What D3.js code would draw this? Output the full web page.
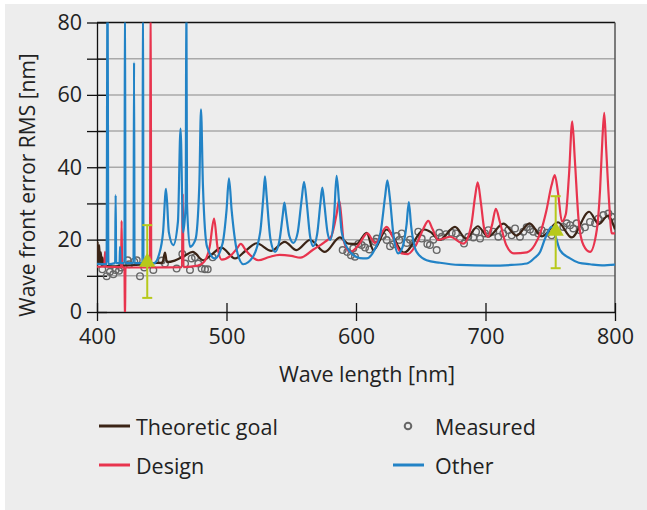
<!DOCTYPE html>
<html>
<head>
<meta charset="utf-8">
<script src="https://cdn.jsdelivr.net/npm/d3@7"></script>
<style>
body{margin:0;background:#fff;}
svg{display:block;font-family:"Open Sans",sans-serif;}
</style>
</head>
<body>
<div id="chart"></div>
<script>

// Data: [wave length nm, RMS nm]
var theoreticGoal = [
	[400,12],[400.5,19.4],[401,13.5],[401.7,18.5],[402.3,13.5],[403,16.5],[403.6,13],[404.3,15],[405,12.8],
	[412,12.6],[420,12.8],[430,13],[440,13.2],[446,13.6],[450.5,13.6],[452.5,16.4],[454,13.8],[460,14.2],
	[467,15.4],[474,16.6],[482,14.3],[489,16],[496,17.8],[506.6,14.8],[515,17],[523.3,19],[534.6,16.9],
	[545,19.4],[554,17.1],[564.5,19.9],[576,16.6],[587.6,20.6],[594,18.9],[600.5,18.8],[608.2,21.9],
	[613.4,17.1],[623.7,22.8],[637,16.4],[653,22.8],[658,22],[664.4,19.9],[676.4,23.5],[685,20.3],
	[694,23.7],[702,20.8],[713.8,24.4],[724,21.1],[734,24.5],[743.5,20.9],[756,24.8],[766.5,20.6],
	[780,27.7],[787.5,24.3],[794.5,26.6],[800,22.8]
];

var design = [
	[400,12.5],[405.6,12.5],[406.2,16.6],[406.8,12.5],[418.6,12.4],[419,25.2],[419.4,12.4],
	[421.2,12.3],[421.6,-3],[422,12.3],[440.9,12.3],[441.4,90],[441.9,12.3],[465.6,12.4],
	[466.2,32.7],[466.8,12.4],[478,12.8],[483,14],[487,18],[490.4,25.8],[493,18],[496.3,14.5],
	[503,15.5],[508,17.5],[511,18.8],[515,17],[524.6,14.3],[533,15.2],[541,15.8],[550,15.5],
	[557,15],[566.8,17.2],[576,19.4],[581,21],[585,27],[587,30.9],[589,25],[590.3,19.9],
	[595.4,16.6],[602,18.5],[608.7,21.7],[614.7,19.1],[623.7,23.5],[628,21],[635.3,16.2],
	[640,16],[647,19],[652,23],[655.8,25.2],[659,23],[663.5,19.9],[672.6,20.8],[682.9,18.9],
	[689,24],[692,32],[694,35.8],[696.5,30],[699,23],[702,20.8],[705,24],[708,28.5],[711,25],
	[716,18.5],[722,16.2],[732,16.5],[738,18.5],[743,22.6],[747,28],[751,35],[753.5,37.8],
	[756,33],[759,25],[762,27],[764.5,38],[767,52.7],[769,42],[772,25],[775.6,18.5],[780.7,16.6],
	[785.9,22.6],[788.5,34],[790.3,48],[791.7,55],[793.2,45],[795.5,30],[797.5,21.7],[800,21.7]
];

var other = [
	[400,13.3],[407.4,13.2],[408.1,90],[408.8,13.2],[414,13.5],[414.4,32.3],[414.8,13.5],
	[417.4,13.5],[417.8,18],[418.2,13.5],[421.2,13.5],[421.6,90],[422,13.5],[428.2,13.5],
	[428.6,69],[429,13.5],[435.1,13.5],[435.5,90],[435.9,13.5],[444,13.5],[448,16],[451,22],
	[453.3,34],[455.5,22],[458.9,18.5],[462.5,25],[464.5,50.7],[466.5,22],[468.5,30],[469,90],
	[469.5,30],[471.8,18],[476,20],[479,35],[480.3,56],[481.8,35],[485,18],[491,14.8],[497,19],
	[500,28],[501.9,36.9],[504,28],[508,17],[513,13.2],[520,15],[526,22],[528.5,32],[529.7,37.5],
	[531,32],[534,20],[537.5,16.6],[541,20],[543.5,27],[544.7,30.2],[546,27],[548.5,21],
	[551.7,19.1],[555,22],[558,31],[559.9,36],[562,30],[564.5,21],[567,18.2],[570,21.5],
	[572.5,30],[574,34.4],[575.5,30],[578,22],[580,19.9],[583,26],[585,37.6],[587,30],[589,22],
	[592.8,18],[598,15.7],[603,14.9],[608,14.8],[614,17],[619,22],[622.5,32],[624.2,36.4],
	[626,32],[629,21],[632.6,16.2],[636,18],[639,24],[640.8,30.4],[642.5,24],[646.8,16.6],
	[654.5,14.3],[664.9,13.6],[680,13],[703.5,12.8],[720,13],[732,13.4],[738,15],[742,16.5],
	[746,20.3],[751,23.5],[754,21],[757.5,17.1],[765.3,14.8],[772,13.6],[780.7,13.2],[790,12.9],[800,13.1]
];

var measured = [
	[404.1,11.8],[407.5,9.9],[410,11.1],[412.6,10.4],[414.4,11.6],[417,11.4],[418.5,12.3],
	[423.7,14.3],[424.9,13.2],[428.8,13.9],[430.7,14.3],[433.2,9.9],[436.5,12.3],[443.5,11.6],
	[450,14.2],[452.5,13.4],[461.5,12],[465.9,16],[468,13.4],[471.8,11.6],[473.1,14.8],
	[475.7,15.1],[478.2,13.4],[480.8,12],[483.4,11.8],[485.5,11.8],[489.3,15.1],
	[589.7,17.1],[593.3,16.6],[596.1,15.7],[599.2,15.3],[597.9,17.6],[601.8,18.8],[604.4,18.5],
	[607,17.8],[610.3,17.3],[614.7,19.4],[616,20.3],[620.6,21],[623.7,19.9],[626.3,18.2],
	[628.8,18.7],[631.4,21],[635.3,21.7],[633.4,19.9],[639.2,19.1],[641.7,20],[644.3,18.9],
	[648.1,22.2],[650.7,20.3],[655.1,18.8],[657.1,18.5],[659.7,20],[662.3,17.1],[664.3,21.9],
	[666.2,20.8],[669.5,21.5],[673.9,21.9],[677.2,21.7],[680.3,20.3],[683.4,18.9],[686.7,20.8],
	[690.6,20.6],[692.7,22.2],[695.8,20.3],[699.6,21.7],[702.2,22.6],[706,22.2],[709.9,20.8],
	[713.7,21.7],[717.6,22.6],[720.2,21.2],[722.8,23.1],[726.6,20.8],[729.2,22.2],[731.8,23.4],
	[734.4,22.8],[736.9,22.2],[740.8,21.7],[743.4,22.6],[747.3,21.9],[751.1,21.2],[760.1,23.5],
	[762.7,24.5],[765.3,24],[767.8,23.1],[770.4,24.5],[773,22.6],[776.8,23.4],[780.7,24.9],
	[784.6,24.5],[787.1,25.8],[791,26.8],[794.9,27.2],[797.5,26.3],[800,24.9]
];

// Error bars: position, marker value, low, high
var errorX = [438.8, 754.2];
var errorMid = [13.8, 22.4];
var errorLow = [3.9, 12.1];
var errorHigh = [24, 32];

var yTicks = [0,10,20,30,40,50,60,70,80];
var xTicks = [400,500,600,700,800];

var colors = {goal: "#3b2416", design: "#e8344e", other: "#2283c6", measured: "#666666", error: "#b7c91b"};
var fontSize = 21.5;

// Svg and background panel
var svg = d3.select("#chart").append("svg")
	.attr("width", 647)
	.attr("height", 510);

svg.append("rect")
	.attr("x", 5).attr("y", 4)
	.attr("width", 642).attr("height", 506)
	.attr("fill", "#ededed");

// Scales
var x = d3.scaleLinear().domain([400, 800]).range([97, 615]);
var y = d3.scaleLinear().domain([0, 80]).range([312, 22.5]);

// Grid lines
svg.append("g").selectAll("line")
	.data(yTicks.filter(d => d > 0))
	.enter().append("line")
	.attr("x1", x(400)).attr("x2", x(800))
	.attr("y1", d => y(d)).attr("y2", d => y(d))
	.attr("stroke", d => d == 80 ? "#111" : "#a9a9a9")
	.attr("stroke-width", 1.5);

// Right frame line
svg.append("line")
	.attr("x1", x(800)).attr("x2", x(800))
	.attr("y1", y(80)).attr("y2", y(0))
	.attr("stroke", "#555")
	.attr("stroke-width", 1.5);

// Axes
var yAxis = d3.axisLeft(y)
	.tickValues(yTicks)
	.tickSize(10)
	.tickSizeOuter(0)
	.tickPadding(5)
	.tickFormat(d => d % 20 == 0 ? d : "");

var xAxis = d3.axisBottom(x)
	.tickValues(xTicks)
	.tickSize(9)
	.tickSizeOuter(0)
	.tickPadding(8);

var gy = svg.append("g")
	.attr("transform", "translate(" + x(400) + ",0)")
	.call(yAxis);
gy.selectAll(".tick line").attr("x1", 10);

var gx = svg.append("g")
	.attr("transform", "translate(0," + y(0) + ")")
	.call(xAxis);
gx.selectAll(".tick line").attr("y1", -9);

[gx, gy].forEach(function(g){
	g.attr("font-family", null).attr("font-size", fontSize);
	g.selectAll("path, line").attr("stroke", "#111").attr("stroke-width", 1.3);
	g.selectAll("text").attr("fill", "#222");
});

// Axis titles
svg.append("text")
	.attr("x", 367).attr("y", 373)
	.attr("text-anchor", "middle")
	.attr("dominant-baseline", "central")
	.attr("font-size", fontSize)
	.attr("fill", "#222")
	.text("Wave length [nm]");

svg.append("text")
	.attr("transform", "translate(27,185) rotate(-90)")
	.attr("text-anchor", "middle")
	.attr("dominant-baseline", "central")
	.attr("font-size", 21)
	.attr("fill", "#222")
	.text("Wave front error RMS [nm]");

// Plot area clip
svg.append("clipPath").attr("id", "plot-clip")
	.append("rect")
	.attr("x", x(400)).attr("y", y(80))
	.attr("width", x(800) - x(400))
	.attr("height", y(0) - y(80));

var plot = svg.append("g").attr("clip-path", "url(#plot-clip)");

// Measured points
plot.append("g").selectAll("circle")
	.data(measured)
	.enter().append("circle")
	.attr("cx", d => x(d[0]))
	.attr("cy", d => y(d[1]))
	.attr("r", 3.3)
	.attr("fill", "none")
	.attr("stroke", colors.measured)
	.attr("stroke-width", 1.4);

var line = d3.line()
	.x(d => x(d[0]))
	.y(d => y(d[1]))
	.curve(d3.curveMonotoneX);

[[theoreticGoal, colors.goal], [design, colors.design], [other, colors.other]].forEach(function(s){
	plot.append("path")
		.datum(s[0])
		.attr("d", line)
		.attr("fill", "none")
		.attr("stroke", s[1])
		.attr("stroke-width", 2.2)
		.attr("stroke-linejoin", "round");
});

// Error bars with triangle markers
var errors = errorX.map((d, i) => ({x: d, mid: errorMid[i], low: errorLow[i], high: errorHigh[i]}));
var eb = svg.append("g").selectAll("g")
	.data(errors)
	.enter().append("g");

eb.append("line")
	.attr("x1", d => x(d.x)).attr("x2", d => x(d.x))
	.attr("y1", d => y(d.low)).attr("y2", d => y(d.high))
	.attr("stroke", colors.error).attr("stroke-width", 2);

["low", "high"].forEach(function(k){
	eb.append("line")
		.attr("x1", d => x(d.x) - 5).attr("x2", d => x(d.x) + 5)
		.attr("y1", d => y(d[k])).attr("y2", d => y(d[k]))
		.attr("stroke", colors.error).attr("stroke-width", 2);
});

eb.append("path")
	.attr("d", d3.symbol(d3.symbolTriangle).size(115))
	.attr("transform", d => "translate(" + x(d.x) + "," + y(d.mid) + ")")
	.attr("fill", colors.error);

// Legend
var legend = [
	{label: "Theoretic goal", type: "line", color: colors.goal, lx: 99, ly: 426, tx: 37},
	{label: "Measured", type: "circle", color: colors.measured, lx: 392, ly: 426, tx: 43},
	{label: "Design", type: "line", color: colors.design, lx: 99, ly: 465, tx: 37},
	{label: "Other", type: "line", color: colors.other, lx: 393, ly: 465, tx: 42}
];

var lg = svg.append("g").selectAll("g")
	.data(legend)
	.enter().append("g")
	.attr("transform", d => "translate(" + d.lx + "," + d.ly + ")");

lg.filter(d => d.type == "line").append("line")
	.attr("x1", 0).attr("x2", 31)
	.attr("stroke", d => d.color)
	.attr("stroke-width", 3);

lg.filter(d => d.type == "circle").append("circle")
	.attr("cx", 16).attr("r", 3.3)
	.attr("fill", "none")
	.attr("stroke", d => d.color)
	.attr("stroke-width", 2);

lg.append("text")
	.attr("x", d => d.tx)
	.attr("dominant-baseline", "central")
	.attr("font-size", fontSize)
	.attr("fill", "#222")
	.text(d => d.label);

</script>
</body>
</html>
